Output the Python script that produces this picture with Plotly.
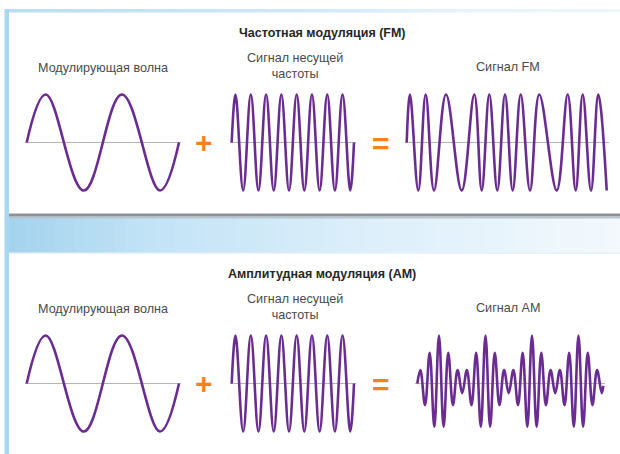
import plotly.graph_objects as go

W, H = 620, 454
PURPLE = "#6a2c91"
ORANGE = "#f5821f"
AXIS_GRAY = "#b4b4b4"

# ---------------- data (time in ms, amplitude normalised) ----------------
# modulating wave: extrema
mod_t = [0, 0.25, 0.75, 1.25, 1.75, 2.0]
mod_v = [0, 1, -1, 1, -1, 0]

# carrier wave: 8 cycles
carrier_t = [0, 0.0625, 0.1875, 0.3125, 0.4375, 0.5625, 0.6875, 0.8125, 0.9375,
             1.0625, 1.1875, 1.3125, 1.4375, 1.5625, 1.6875, 1.8125, 1.9375, 2.0]
carrier_v = [0, 1, -1, 1, -1, 1, -1, 1, -1, 1, -1, 1, -1, 1, -1, 1, -1, 0]

# FM signal: extrema positions
fm_t = [0, 0.033, 0.116, 0.19, 0.273, 0.393, 0.55, 0.676, 0.75, 0.826, 0.906,
        0.983, 1.06, 1.14, 1.233, 1.326, 1.5, 1.61, 1.69, 1.76, 1.843, 1.916, 2.0]
fm_v = [0, 1, -1, 1, -1, 1, -1, 1, -1, 1, -1,
        1, -1, 1, -1, 1, -1, 1, -1, 1, -1, 1, -1]

# AM signal: extrema positions and heights
am_t = [0, 0.033, 0.083, 0.133, 0.183, 0.233, 0.283, 0.333, 0.383, 0.433, 0.483,
        0.533, 0.583, 0.633, 0.683, 0.733, 0.783, 0.833, 0.883, 0.933, 0.983,
        1.033, 1.083, 1.133, 1.183, 1.233, 1.283, 1.333, 1.383, 1.433, 1.483,
        1.533, 1.583, 1.633, 1.683, 1.733, 1.783, 1.833, 1.883, 1.933, 1.983, 2.0]
am_v = [0, 0.28, -0.45, 0.64, -0.9, 1.0, -0.9, 0.64, -0.45, 0.28, -0.2,
        0.28, -0.45, 0.64, -0.9, 1.0, -0.9, 0.64, -0.45, 0.28, -0.2,
        0.28, -0.45, 0.64, -0.9, 1.0, -0.9, 0.64, -0.45, 0.28, -0.2,
        0.28, -0.45, 0.64, -0.9, 1.0, -0.9, 0.64, -0.45, 0.28, -0.2, -0.05]

titles = ["Частотная модуляция (FM)", "Амплитудная модуляция (AM)"]
labels_mod = "Модулирующая волна"
labels_carrier = "Сигнал несущей<br>частоты"
labels_result = ["Сигнал FM", "Сигнал AM"]

# ---------------- layout helpers ----------------
def px(x):
    return x / W

def py(y):
    return 1 - y / H

AMP_PX = 48.0
YR = 1.12
PAD_PX = 2.0

# panel placement (pixels): left, right, centre line
panels = [
    (mod_t, mod_v, 26.7, 179.0, 142.5),
    (carrier_t, carrier_v, 231.7, 354.0, 142.5),
    (fm_t, fm_v, 406.7, 606.7, 142.5),
    (mod_t, mod_v, 26.7, 179.0, 383.5),
    (carrier_t, carrier_v, 231.7, 354.0, 383.5),
    (am_t, am_v, 417.3, 603.3, 383.5),
]

fig = go.Figure()
layout = dict(
    width=W, height=H, margin=dict(l=0, r=0, t=0, b=0),
    paper_bgcolor="white", plot_bgcolor="rgba(0,0,0,0)",
    showlegend=False, autosize=False,
)

for i, (t, v, x0, x1, yc) in enumerate(panels, start=1):
    sfx = "" if i == 1 else str(i)
    t0, t1 = t[0], t[-1]
    pad_t = PAD_PX * (t1 - t0) / (x1 - x0)
    half = AMP_PX * YR
    layout["xaxis" + sfx] = dict(
        domain=[px(x0 - PAD_PX), px(x1 + PAD_PX)], range=[t0 - pad_t, t1 + pad_t],
        visible=False, anchor="y" + sfx, fixedrange=True)
    layout["yaxis" + sfx] = dict(
        domain=[py(yc + half), py(yc - half)], range=[-YR, YR],
        showgrid=False, showticklabels=False, ticks="", showline=False,
        zeroline=True, zerolinecolor=AXIS_GRAY, zerolinewidth=1,
        anchor="x" + sfx, fixedrange=True)
    fig.add_trace(go.Scatter(
        x=t, y=v, mode="lines", xaxis="x" + sfx, yaxis="y" + sfx,
        line=dict(color=PURPLE, width=2.6, shape="spline", smoothing=1.1),
        hoverinfo="skip"))

# ---------------- background: cards and band ----------------
shapes = []

def hex2rgb(h):
    h = h.lstrip("#")
    return tuple(int(h[i:i + 2], 16) for i in (0, 2, 4))

def grad(c_stops, x):
    for (xa, ca), (xb, cb) in zip(c_stops[:-1], c_stops[1:]):
        if xa <= x <= xb:
            f = (x - xa) / (xb - xa)
            a, b = hex2rgb(ca), hex2rgb(cb)
            return "rgb(%d,%d,%d)" % tuple(round(a[k] + (b[k] - a[k]) * f) for k in range(3))
    return c_stops[-1][1]

band_stops = [(5, "#a3d2ee"), (150, "#c2e3f6"), (350, "#dbeefa"), (620, "#f3f9fd")]
top_stops = [(5, "#b9def3"), (300, "#cfe8f7"), (460, "#e6f3fb"), (620, "#eef7fc")]
step = 10
for xs in range(5, 620, step):
    shapes.append(dict(type="rect", xref="paper", yref="paper", layer="below",
                       x0=px(xs), x1=px(min(xs + step + 0.5, 620)), y0=py(253), y1=py(215),
                       fillcolor=grad(band_stops, xs + step / 2), line_width=0))
    shapes.append(dict(type="rect", xref="paper", yref="paper", layer="below",
                       x0=px(xs), x1=px(min(xs + step + 0.5, 620)), y0=py(12.5), y1=py(9),
                       fillcolor=grad(top_stops, xs + step / 2), line_width=0))

# left border strip
shapes.append(dict(type="rect", xref="paper", yref="paper", layer="below",
                   x0=px(4.5), x1=px(9), y0=py(454), y1=py(9),
                   fillcolor="#a9d6f0", line_width=0))
# card 1 bottom shadow
shapes.append(dict(type="rect", xref="paper", yref="paper", layer="below",
                   x0=px(9), x1=px(620), y0=py(216.5), y1=py(213.5),
                   fillcolor="#8f9396", line_width=0))
shapes.append(dict(type="rect", xref="paper", yref="paper", layer="below",
                   x0=px(9), x1=px(620), y0=py(218.5), y1=py(216.5),
                   fillcolor="#b9c4cb", line_width=0))
# card 2 top faint line
shapes.append(dict(type="rect", xref="paper", yref="paper", layer="below",
                   x0=px(9), x1=px(620), y0=py(254), y1=py(252.5),
                   fillcolor="#e9f2f7", line_width=0))

layout["shapes"] = shapes

# ---------------- text ----------------
ann = []
LBL_FONT = dict(family="Liberation Sans, Arial, sans-serif", size=12.6, color="#4a4a4a")
TTL_FONT = dict(family="Liberation Sans, Arial, sans-serif", size=12.5, color="#262626")

for k, dy in enumerate([0, 241]):
    ann.append(dict(text="<b>%s</b>" % titles[k], x=px(322), y=py(32.5 + dy),
                    xref="paper", yref="paper", showarrow=False, font=TTL_FONT,
                    xanchor="center", yanchor="middle"))
    ann.append(dict(text=labels_mod, x=px(103), y=py(67.5 + dy),
                    xref="paper", yref="paper", showarrow=False, font=LBL_FONT,
                    xanchor="center", yanchor="middle"))
    ann.append(dict(text=labels_carrier, x=px(294.5), y=py(66 + dy),
                    xref="paper", yref="paper", showarrow=False, font=LBL_FONT,
                    xanchor="center", yanchor="middle"))
    ann.append(dict(text=labels_result[k], x=px(507.5), y=py(67 + dy),
                    xref="paper", yref="paper", showarrow=False, font=LBL_FONT,
                    xanchor="center", yanchor="middle"))
    ann.append(dict(text="<b>+</b>", x=px(204), y=py(142 + dy),
                    xref="paper", yref="paper", showarrow=False,
                    font=dict(family="Liberation Sans, Arial", size=30, color=ORANGE),
                    xanchor="center", yanchor="middle"))
    ann.append(dict(text="<b>=</b>", x=px(381), y=py(143 + dy),
                    xref="paper", yref="paper", showarrow=False,
                    font=dict(family="Liberation Sans, Arial", size=30, color=ORANGE),
                    xanchor="center", yanchor="middle"))

layout["annotations"] = ann
fig.update_layout(**layout)
fig.write_html("out.html", config={"displayModeBar": False, "staticPlot": True},
               post_script="document.body.style.margin='0';document.body.style.padding='0';")
